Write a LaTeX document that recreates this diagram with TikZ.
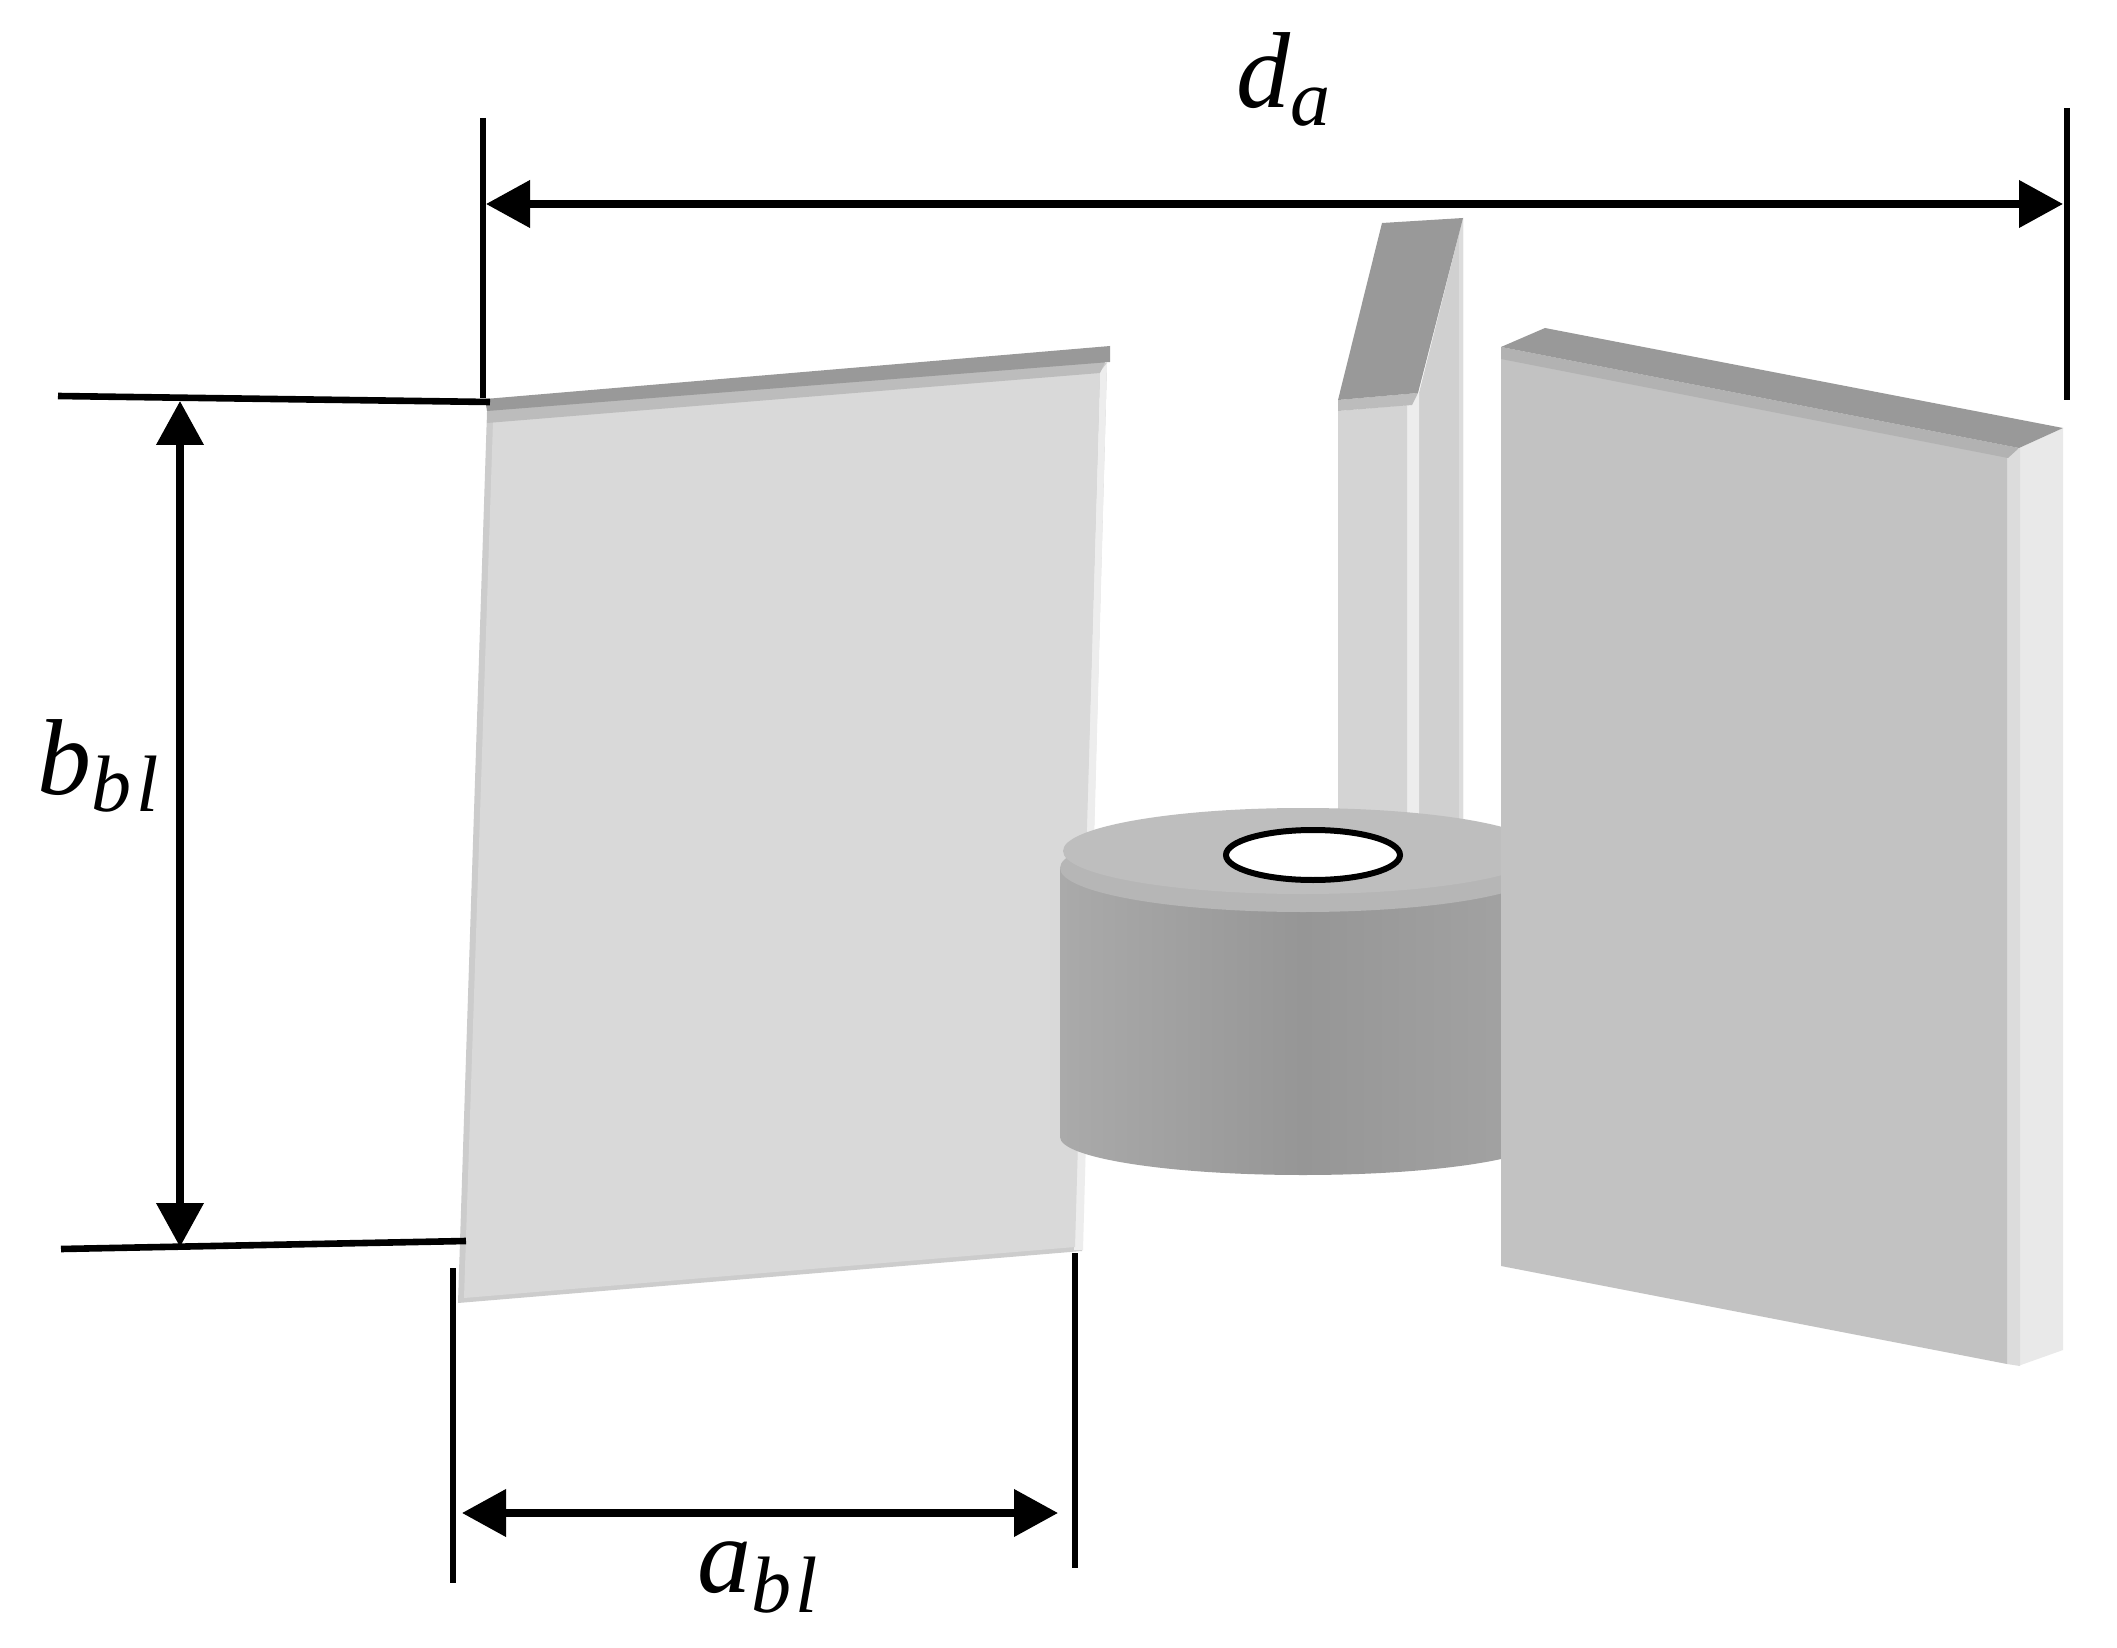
\documentclass[tikz,border=0pt]{standalone}
\usepackage{fontspec}
\setmainfont{Liberation Serif}
\usetikzlibrary{arrows.meta}
\definecolor{topdark}{HTML}{999999}
\definecolor{leftface}{HTML}{D9D9D9}
\definecolor{leftedge}{HTML}{CCCCCC}
\definecolor{leftband}{HTML}{BCBCBC}
\definecolor{lightedge}{HTML}{EDEDED}
\definecolor{bladeface}{HTML}{D4D4D4}
\definecolor{bladeside}{HTML}{D0D0D0}
\definecolor{bladerim}{HTML}{DCDCDC}
\definecolor{rightface}{HTML}{C2C2C2}
\definecolor{rightside}{HTML}{E9E9E9}
\definecolor{rightband}{HTML}{B2B2B2}
\definecolor{rightstrip}{HTML}{DCDCDC}
\definecolor{cyltop}{HTML}{BEBEBE}
\definecolor{cylband}{HTML}{B6B6B6}
\definecolor{cylleft}{HTML}{AAAAAA}
\definecolor{cylmid}{HTML}{969696}
\definecolor{cylright}{HTML}{A4A4A4}
\newcommand{\dimlabel}[3]{\fontsize{54}{54}\selectfont\itshape #1\raisebox{#3}{\fontsize{40}{40}\selectfont\addfontfeature{LetterSpace=6} #2}}
\tikzset{
  dimline/.style={line width=3.3pt,black},
  dimarrow/.style={line width=3.7pt,black,{Triangle[length=22pt,width=23pt]}-{Triangle[length=22pt,width=23pt]},shorten <=0pt,shorten >=0pt},
  dimtext/.style={anchor=base west,inner sep=0pt,outer sep=0pt,text=black}
}
\begin{document}
\begin{tikzpicture}[x=0.5pt,y=-0.5pt]
\useasboundingbox[fill=white] (0,0) rectangle (2117,1648);

% centre blade
\fill[bladeside] (1419,393) -- (1463,218) -- (1463,860) -- (1419,860) -- cycle;
\fill[bladerim] (1459,235) -- (1463,218) -- (1463,860) -- (1459,860) -- cycle;
\fill[lightedge] (1407,405) -- (1419,393) -- (1419,860) -- (1407,860) -- cycle;
\fill[bladeface] (1338,411) -- (1407,405) -- (1407,860) -- (1338,860) -- cycle;
\fill[leftband] (1338,400) -- (1418,393) -- (1412,405) -- (1338,411) -- cycle;
\fill[topdark] (1382,223) -- (1463,218) -- (1418,393) -- (1338,400) -- cycle;

% left blade
\fill[leftedge] (487,412) -- (1107,363) -- (1082,1251) -- (458,1303) -- cycle;
\fill[lightedge] (1100,372) -- (1107,363) -- (1083,1250) -- (1074,1250) -- cycle;
\fill[leftface] (493,422) -- (1100,372) -- (1075,1247) -- (464,1298) -- cycle;
\fill[leftband] (487,408) -- (1107,358) -- (1100,373) -- (487,423) -- cycle;
\fill[topdark] (485,399) -- (1110,346) -- (1110,362) -- (487,411) -- cycle;

% cylinder
\shade[left color=cylleft,right color=cylright,middle color=cylmid]
  (1060,868) -- (1060,1137) arc[start angle=180,end angle=0,x radius=243,y radius=38]
  -- (1546,868) -- cycle;
\fill[cylband] (1303,868) ellipse[x radius=243,y radius=44];
\fill[cyltop] (1303,851) ellipse[x radius=240,y radius=43];
\draw[line width=3pt,black,fill=white] (1313,855) ellipse[x radius=87,y radius=25];

% right blade
\fill[rightside] (2019,448) -- (2063,428) -- (2063,1350) -- (2018,1366) -- cycle;
\fill[rightstrip] (2007,455) -- (2020,448) -- (2020,1366) -- (2007,1364) -- cycle;
\fill[rightface] (1501,358) -- (2007,455) -- (2007,1364) -- (1501,1266) -- cycle;
\fill[rightband] (1501,347) -- (2019,448) -- (2008,458) -- (1501,359) -- cycle;
\fill[topdark] (1501,347) -- (1545,328) -- (2063,428) -- (2019,448) -- cycle;

% dimension ends
\coordinate (daTopL) at (483,118);
\coordinate (daBotL) at (483,398);
\coordinate (daTopR) at (2067,108);
\coordinate (daBotR) at (2067,400);
\coordinate (daA) at (486,204);
\coordinate (daB) at (2063,204);
\coordinate (bTopL) at (58,396);
\coordinate (bTopR) at (490,402);
\coordinate (bBotL) at (61,1249);
\coordinate (bBotR) at (466,1241);
\coordinate (bA) at (180,401);
\coordinate (bB) at (180,1247);
\coordinate (aLeftT) at (453,1268);
\coordinate (aLeftB) at (453,1583);
\coordinate (aRightT) at (1075,1253);
\coordinate (aRightB) at (1075,1568);
\coordinate (aA) at (462,1513);
\coordinate (aB) at (1058,1513);

\draw[dimline] (daTopL) -- (daBotL);
\draw[dimline] (daTopR) -- (daBotR);
\draw[dimarrow] (daA) -- (daB);
\draw[dimline] (bTopL) -- (bTopR);
\draw[dimline] (bBotL) -- (bBotR);
\draw[dimarrow] (bA) -- (bB);
\draw[dimline] (aLeftT) -- (aLeftB);
\draw[dimline] (aRightT) -- (aRightB);
\draw[dimarrow] (aA) -- (aB);

\node[dimtext] (lda) at (1236,108) {\dimlabel{d}{a}{-9pt}};
\node[dimtext] (lbb) at (38,794) {\dimlabel{b}{bl}{-8.5pt}};
\node[dimtext] (lab) at (697,1592) {\dimlabel{a}{bl}{-10pt}};
\end{tikzpicture}
\end{document}
